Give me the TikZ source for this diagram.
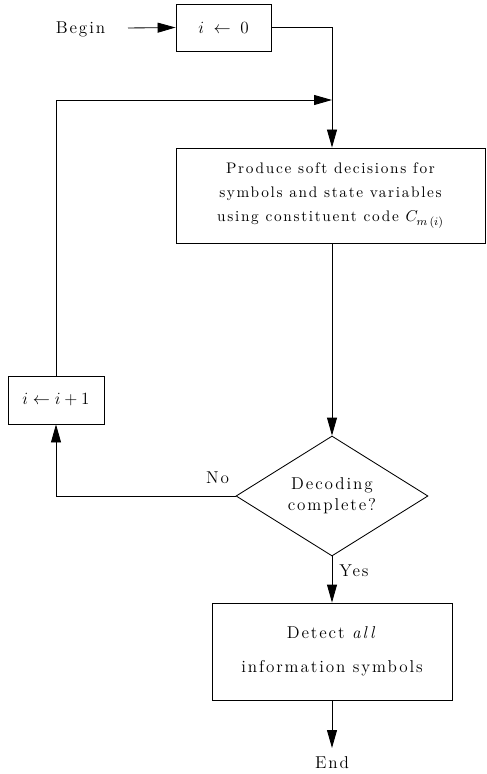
\documentclass[tikz,border=0pt]{standalone}
\usepackage{fontspec}
\setmainfont{Latin Modern Roman}[LetterSpace=11]
\usetikzlibrary{arrows.meta,shapes.geometric}

\begin{document}
\begin{tikzpicture}[x=0.7pt,y=-0.7pt,
    line width=0.6pt,
    every node/.style={font=\fontsize{12}{14.4}\selectfont},
    arr/.style={-{Triangle[length=12.6pt,width=7pt]}},
    box/.style={draw, rectangle, inner sep=0pt, align=center},
    decision/.style={draw, diamond, inner sep=0pt, align=center, aspect=1.6},
    lbl/.style={inner sep=0pt, anchor=base}]
  \useasboundingbox (0,0) rectangle (486,774);

  % nodes
  \node[lbl] (begin) at (80.5,33.3) {Begin};
  \coordinate (bstart) at (128,28);
  \node[box, minimum width=66.5pt, minimum height=32.9pt] (init) at (223.5,27.5)
    {$i\;\leftarrow\;0$};
  \coordinate (join) at (332,100);
  \node[box, minimum width=216.3pt, minimum height=66.5pt,
        font=\fontsize{10.7}{16.8}\selectfont] (soft) at (330.5,195.5)
    {Produce soft decisions for\\symbols and state variables\\using constituent code
     $C_{\hbox{\fontsize{8.5}{8.5}\selectfont$m\,(i)$}}$};
  \node[decision, minimum width=134.4pt, minimum height=84pt,
        font=\fontsize{12}{14.7}\selectfont] (dec) at (332,496)
    {Decoding\\complete?};
  \node[box, minimum width=67.2pt, minimum height=33.6pt] (inc) at (56,400)
    {$i\leftarrow i+1$};
  \node[box, minimum width=168pt, minimum height=67.9pt,
        font=\fontsize{12}{23.8}\selectfont] (det) at (332,651.5)
    {Detect \textit{all}\\information symbols};
  \node[lbl] (end) at (332,768.7) {End};

  % connectors
  \draw[arr] (bstart) -- (init.west);
  \draw (init.east) -| (join);
  \draw[arr] (join) -- (soft.north -| join);
  \draw[arr] (inc.north) |- (join);
  \draw[arr] (soft.south -| dec.north) -- (dec.north);
  \draw[arr] (dec.west) -| (inc.south);
  \node[lbl] (no) at (217.5,483) {No};
  \draw[arr] (dec.south) -- (det.north);
  \node[lbl] (yes) at (354,576.3) {Yes};
  \draw[arr] (det.south) -- (det.south |- 0,748);
\end{tikzpicture}
\end{document}
